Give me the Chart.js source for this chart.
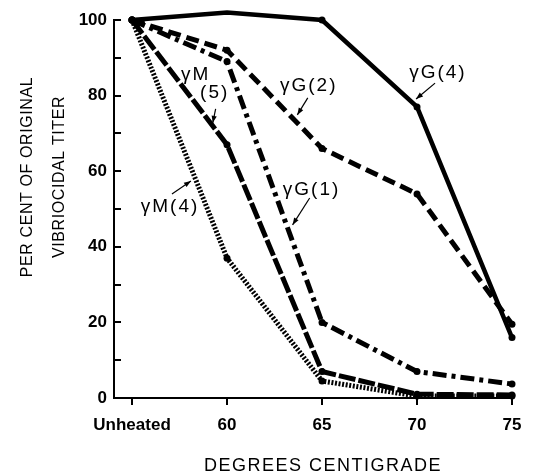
<!DOCTYPE html>
<html><head><meta charset="utf-8">
<script src="https://cdn.jsdelivr.net/npm/chart.js@4"></script>
<style>html,body{margin:0;padding:0;background:#fff;}canvas{display:block;}</style>
</head><body>
<canvas id="c" width="536" height="473"></canvas>
<script>
// ---- data ----
const categories = ['Unheated', '60', '65', '70', '75'];
const yTickValues = [0, 20, 40, 60, 80, 100];
const seriesNames = ['γG(4)', 'γG(2)', 'γG(1)', 'γM(5)', 'γM(4)'];
const gammaG4 = [100, 102, 100, 77, 16];
const gammaG2 = [100, 92, 66, 54, 19.5];
const gammaG1 = [100, 89, 20, 7, 3.7];
const gammaM5 = [100, 67, 7, 1, 0.8];
const gammaM4 = [100, 37, 4.5, 0.5, 0.5];
const xTitle = 'DEGREES CENTIGRADE';
const yTitleLines = ['PER CENT OF ORIGINAL', 'VIBRIOCIDAL TITER'];

// annotation labels, placed in data units
const annotations = [
  { lines: ['γG(4)'], x: 3.22, y: 86.0, arrow: [3.19, 83.3, 2.99, 79.1] },
  { lines: ['γG(2)'], x: 1.86, y: 82.5, arrow: [1.85, 79.4, 1.74, 74.9] },
  { lines: ['γM'], x: 0.67, y: 85.4, arrow: null },
  { lines: ['(5)'], x: 0.87, y: 80.7, arrow: [0.88, 76.5, 0.85, 72.8] },
  { lines: ['γG(1)'], x: 1.89, y: 55.0, arrow: [1.87, 52.9, 1.69, 45.8] },
  { lines: ['γM(4)'], x: 0.40, y: 50.5, arrow: [0.42, 54.0, 0.62, 57.4] }
];

const seriesValues = [gammaG4, gammaG2, gammaG1, gammaM5, gammaM4];
const seriesStyles = [
  { dash: [], width: 4.5 },
  { dash: [13, 6], width: 5 },
  { dash: [14, 5, 4, 5], width: 5 },
  { dash: [17, 3], width: 5 },
  { dash: [2, 1.6], width: 5 }
];

const datasets = seriesValues.map((vals, i) => ({
  label: seriesNames[i],
  data: vals.map((v, j) => ({ x: j, y: v })),
  borderColor: '#000',
  backgroundColor: '#000',
  borderWidth: seriesStyles[i].width,
  borderDash: seriesStyles[i].dash,
  borderCapStyle: 'butt',
  pointRadius: 3.5,
  pointHoverRadius: 3.5,
  pointBackgroundColor: '#000',
  pointBorderWidth: 0,
  tension: 0,
  clip: false
}));

const FONT = "'Liberation Sans', Arial, sans-serif";

const decor = {
  id: 'decor',
  afterDraw(chart) {
    const ctx = chart.ctx;
    const xs = chart.scales.x, ys = chart.scales.y;
    const ca = chart.chartArea;
    ctx.save();
    ctx.strokeStyle = '#000';
    ctx.fillStyle = '#000';
    // y tick marks, inside the plot
    ctx.lineWidth = 2;
    for (let v = 10; v <= 100; v += 10) {
      const py = Math.round(ys.getPixelForValue(v));
      ctx.beginPath();
      ctx.moveTo(ca.left, py);
      ctx.lineTo(ca.left + 7, py);
      ctx.stroke();
    }
    // annotations
    ctx.font = '19px ' + FONT;
    ctx.letterSpacing = '2px';
    ctx.textAlign = 'center';
    ctx.textBaseline = 'middle';
    annotations.forEach(a => {
      const px = xs.getPixelForValue(a.x), py = ys.getPixelForValue(a.y);
      ctx.fillText(a.lines[0], px, py);
      if (a.arrow) {
        const x1 = xs.getPixelForValue(a.arrow[0]), y1 = ys.getPixelForValue(a.arrow[1]);
        const x2 = xs.getPixelForValue(a.arrow[2]), y2 = ys.getPixelForValue(a.arrow[3]);
        ctx.lineWidth = 1.2;
        ctx.setLineDash([]);
        ctx.beginPath();
        ctx.moveTo(x1, y1);
        ctx.lineTo(x2, y2);
        ctx.stroke();
        const ang = Math.atan2(y2 - y1, x2 - x1);
        const L = 7, W = 2.6;
        ctx.beginPath();
        ctx.moveTo(x2, y2);
        ctx.lineTo(x2 - L * Math.cos(ang) + W * Math.sin(ang), y2 - L * Math.sin(ang) - W * Math.cos(ang));
        ctx.lineTo(x2 - L * Math.cos(ang) - W * Math.sin(ang), y2 - L * Math.sin(ang) + W * Math.cos(ang));
        ctx.closePath();
        ctx.fill();
      }
    });
    // x title
    ctx.font = '18px ' + FONT;
    ctx.letterSpacing = '1.5px';
    ctx.fillText(xTitle, 323, 466);
    // y title
    ctx.font = '16px ' + FONT;
    ctx.letterSpacing = '0.6px';
    ctx.translate(0, 177);
    ctx.rotate(-Math.PI / 2);
    ctx.fillText(yTitleLines[0], 0, 28);
    ctx.fillText(yTitleLines[1], 0, 60);
    ctx.restore();
  }
};

new Chart(document.getElementById('c'), {
  type: 'line',
  data: { datasets },
  options: {
    responsive: false,
    animation: false,
    events: [],
    layout: { padding: { left: 0, right: 24, top: 20, bottom: 0 } },
    plugins: { legend: { display: false }, tooltip: { enabled: false }, title: { display: false } },
    scales: {
      x: {
        type: 'linear',
        min: -0.19,
        max: 4,
        afterBuildTicks: s => { s.ticks = categories.map((_, i) => ({ value: i })); },
        afterFit: s => { s.height = 75; },
        ticks: {
          callback: v => categories[v],
          color: '#000',
          font: { family: FONT, size: 17, weight: 'bold' },
          padding: 10,
          maxRotation: 0,
          autoSkip: false
        },
        grid: { drawOnChartArea: false, drawTicks: true, tickLength: 7, color: '#000', lineWidth: 2 },
        border: { display: true, color: '#000', width: 2 }
      },
      y: {
        min: 0,
        max: 100,
        afterBuildTicks: s => { s.ticks = yTickValues.map(v => ({ value: v })); },
        afterFit: s => { s.width = 114; },
        ticks: {
          color: '#000',
          font: { family: FONT, size: 17, weight: 'bold' },
          padding: 7
        },
        grid: { display: false, drawTicks: false },
        border: { display: true, color: '#000', width: 2 }
      }
    }
  },
  plugins: [decor]
});
</script>
</body></html>
